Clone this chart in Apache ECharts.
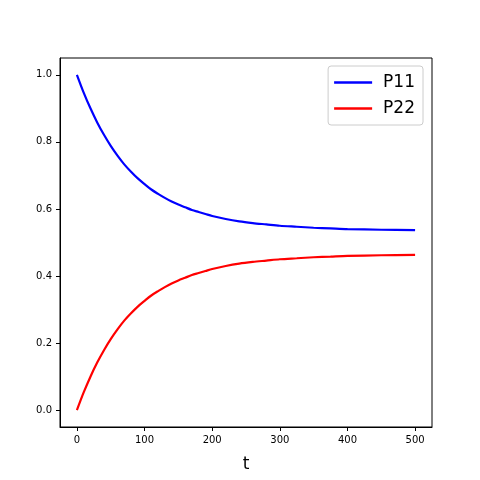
<!DOCTYPE html>
<html>
<head>
<meta charset="utf-8">
<script src="https://cdn.jsdelivr.net/npm/echarts@6/dist/echarts.min.js"></script>
<style>
  html, body { margin: 0; padding: 0; background: #fff; }
  #main { width: 480px; height: 480px; }
</style>
</head>
<body>
<div id="main"></div>
<script>
// values
var tValues = [0, 10, 20, 30, 40, 50, 60, 70, 80, 90, 100, 110, 120, 130, 140, 150, 160, 170, 180, 190, 200,
               220, 240, 260, 280, 300, 325, 350, 375, 400, 450, 500];
var p11 = [1.000, 0.947, 0.900, 0.858, 0.821, 0.788, 0.759, 0.733, 0.711, 0.691, 0.674, 0.658, 0.645, 0.633, 0.622,
           0.613, 0.605, 0.597, 0.591, 0.585, 0.579, 0.570, 0.563, 0.558, 0.554, 0.550, 0.547, 0.544, 0.542, 0.540, 0.538, 0.537];
var p22 = [0.000, 0.053, 0.100, 0.142, 0.179, 0.212, 0.241, 0.267, 0.289, 0.309, 0.326, 0.342, 0.355, 0.367, 0.378,
           0.387, 0.395, 0.403, 0.409, 0.415, 0.421, 0.430, 0.437, 0.442, 0.446, 0.450, 0.453, 0.456, 0.458, 0.460, 0.462, 0.463];
var xTicks = [0, 100, 200, 300, 400, 500];
var yTicks = [0, 0.2, 0.4, 0.6, 0.8, 1.0];

function pairs(xs, ys) {
  return xs.map(function (x, i) { return [x, ys[i]]; });
}

var chart = echarts.init(document.getElementById('main'), null, { renderer: 'canvas' });
var font = 'DejaVu Sans';

var option = {
  animation: false,
  textStyle: { fontFamily: font },
  grid: {
    left: 60, top: 58, width: 372, height: 369,
    show: true, borderColor: '#000', borderWidth: 1, backgroundColor: '#fff'
  },
  legend: {
    orient: 'vertical',
    right: 57, top: 66,
    icon: 'rect',
    itemWidth: 38, itemHeight: 2.5, itemGap: 9,
    padding: [8, 8, 8, 6],
    borderColor: '#ccc', borderWidth: 1, borderRadius: 3,
    backgroundColor: 'rgba(255,255,255,0.8)',
    textStyle: { fontFamily: font, fontSize: 17, color: '#000', padding: [0, 0, 0, 6] },
    data: ['P11', 'P22']
  },
  xAxis: {
    type: 'value', min: -25, max: 525,
    name: 't', nameLocation: 'middle', nameGap: 29,
    nameTextStyle: { fontFamily: font, fontSize: 17, color: '#000' },
    splitLine: { show: false },
    axisLine: { show: true, onZero: false, lineStyle: { color: '#000', width: 1 } },
    axisTick: { show: true, inside: false, length: 4, lineStyle: { color: '#000' }, customValues: xTicks },
    axisLabel: { color: '#000', fontSize: 10, fontFamily: font, margin: 8, customValues: xTicks }
  },
  yAxis: {
    type: 'value', min: -0.05, max: 1.05,
    splitLine: { show: false },
    axisLine: { show: true, onZero: false, lineStyle: { color: '#000', width: 1 } },
    axisTick: { show: true, inside: false, length: 4, lineStyle: { color: '#000' }, customValues: yTicks },
    axisLabel: {
      color: '#000', fontSize: 10, fontFamily: font, margin: 8, customValues: yTicks,
      formatter: function (v) { return v.toFixed(1); }
    }
  },
  series: [
    {
      name: 'P11', type: 'line', data: pairs(tValues, p11),
      symbol: 'none', smooth: 0.3,
      lineStyle: { color: '#0000ff', width: 2.2 },
      itemStyle: { color: '#0000ff' }
    },
    {
      name: 'P22', type: 'line', data: pairs(tValues, p22),
      symbol: 'none', smooth: 0.3,
      lineStyle: { color: '#ff0000', width: 2.2 },
      itemStyle: { color: '#ff0000' }
    }
  ]
};
chart.setOption(option);
</script>
</body>
</html>
